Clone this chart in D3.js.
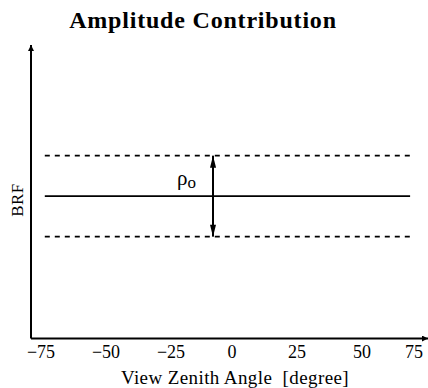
<!DOCTYPE html>
<html>
<head>
<meta charset="utf-8">
<script src="https://cdn.jsdelivr.net/npm/d3@7"></script>
<style>
  html, body { margin: 0; padding: 0; background: #fff; }
  svg { display: block; }
  text { font-family: "Liberation Serif", "DejaVu Serif", serif; fill: #000; }
</style>
</head>
<body>
<svg id="chart" width="428" height="388"></svg>
<script>
// Tick values along the view zenith angle axis
const xTicks = [-75, -50, -25, 0, 25, 50, 75];
// Extent of the reference lines (degrees)
const lineExtent = [-72, 68.5];
// Mean BRF level and amplitude ρ0 (relative units)
const meanBRF = [0.485];
const amplitude = [0.138];
// Angle at which the amplitude arrow is drawn
const arrowAngle = [-7.3];

const W = 428, H = 388;
const svg = d3.select("#chart");

const originX = 31, originY = 338.5;
const x = d3.scaleLinear().domain([0, 25]).range([232, 297]);
const y = d3.scaleLinear().domain([0, 1]).range([originY, 45]);

// Marker definitions
const defs = svg.append("defs");
defs.append("marker")
  .attr("id", "axisHead")
  .attr("viewBox", "0 0 10 10")
  .attr("refX", 10).attr("refY", 5)
  .attr("markerWidth", 4).attr("markerHeight", 3)
  .attr("markerUnits", "strokeWidth")
  .attr("orient", "auto")
  .append("path").attr("d", "M0,0 L10,5 L0,10 z").attr("fill", "#000");
defs.append("marker")
  .attr("id", "ampHead")
  .attr("viewBox", "0 0 12 6")
  .attr("refX", 12).attr("refY", 3)
  .attr("markerWidth", 6.5).attr("markerHeight", 3)
  .attr("markerUnits", "strokeWidth")
  .attr("orient", "auto")
  .append("path").attr("d", "M0,0 L12,3 L0,6 z").attr("fill", "#000");

// Title
svg.append("text")
  .attr("x", 203).attr("y", 28)
  .attr("text-anchor", "middle")
  .attr("font-size", 24).attr("font-weight", "bold")
  .attr("letter-spacing", 0.8)
  .text("Amplitude Contribution");

// Axes with arrows
svg.append("line")
  .attr("x1", originX).attr("y1", originY)
  .attr("x2", originX).attr("y2", 45)
  .attr("stroke", "#000").attr("stroke-width", 2)
  .attr("marker-end", "url(#axisHead)");
svg.append("line")
  .attr("x1", originX).attr("y1", originY)
  .attr("x2", 428).attr("y2", originY)
  .attr("stroke", "#000").attr("stroke-width", 2)
  .attr("marker-end", "url(#axisHead)");

// Tick labels (the last one kept inside the page)
svg.append("g").selectAll("text")
  .data(xTicks)
  .join("text")
  .attr("x", d => Math.min(x(d) + (d < 0 ? 4 : 0), W - 14))
  .attr("y", 358)
  .attr("text-anchor", "middle")
  .attr("font-size", 18)
  .text(d => d < 0 ? "\u2212" + Math.abs(d) : d);

// Axis titles
svg.append("text")
  .attr("x", 235).attr("y", 384)
  .attr("text-anchor", "middle")
  .attr("font-size", 19)
  .attr("letter-spacing", 0.4)
  .attr("xml:space", "preserve")
  .text("View Zenith Angle  [degree]");
svg.append("text")
  .attr("transform", `translate(23,200) rotate(-90)`)
  .attr("text-anchor", "middle")
  .attr("font-size", 17)
  .attr("letter-spacing", 0.5)
  .text("BRF");

// Mean level (solid) and mean ± ρ0 (dashed)
const levels = [
  { v: meanBRF[0], dash: null },
  { v: meanBRF[0] + amplitude[0], dash: "5,5" },
  { v: meanBRF[0] - amplitude[0], dash: "5,5" }
];
svg.append("g").selectAll("line")
  .data(levels)
  .join("line")
  .attr("x1", x(lineExtent[0])).attr("x2", x(lineExtent[1]))
  .attr("y1", d => y(d.v)).attr("y2", d => y(d.v))
  .attr("stroke", "#000").attr("stroke-width", 1.6)
  .attr("stroke-dasharray", d => d.dash);

// Double-headed amplitude arrow
const ax = x(arrowAngle[0]);
const ym = y(meanBRF[0]);
svg.append("line")
  .attr("x1", ax).attr("y1", ym)
  .attr("x2", ax).attr("y2", y(meanBRF[0] + amplitude[0]))
  .attr("stroke", "#000").attr("stroke-width", 2)
  .attr("marker-end", "url(#ampHead)");
svg.append("line")
  .attr("x1", ax).attr("y1", ym)
  .attr("x2", ax).attr("y2", y(meanBRF[0] - amplitude[0]))
  .attr("stroke", "#000").attr("stroke-width", 2)
  .attr("marker-end", "url(#ampHead)");

// ρ0 label
const lbl = svg.append("text")
  .attr("x", ax - 36).attr("y", 185)
  .attr("font-size", 21);
lbl.append("tspan").text("\u03c1");
lbl.append("tspan").attr("font-size", 17).attr("dy", 3).text("o");
</script>
</body>
</html>
